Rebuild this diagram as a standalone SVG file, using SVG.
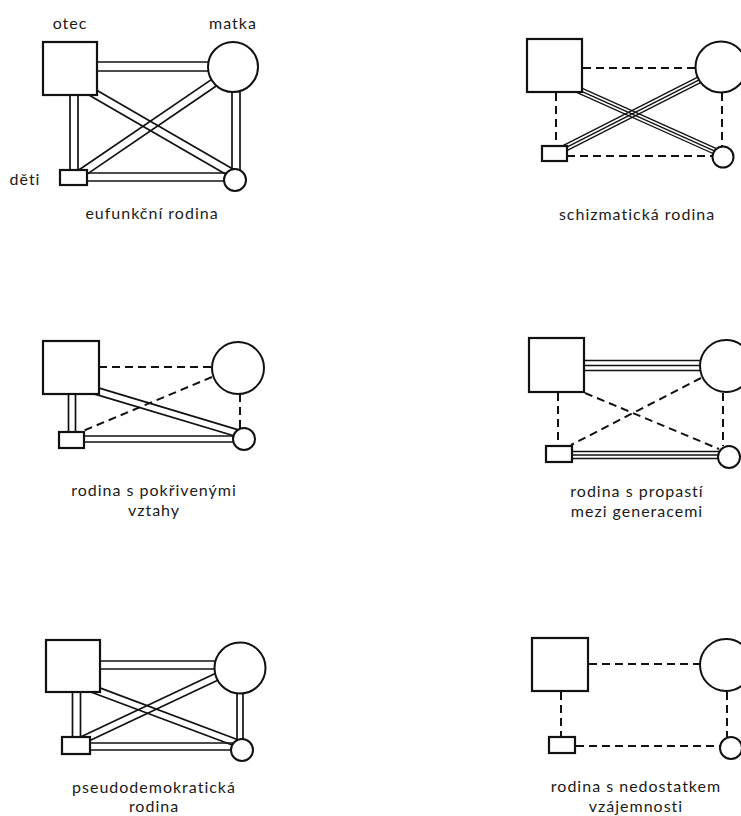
<svg xmlns="http://www.w3.org/2000/svg" width="741" height="816" viewBox="0 0 741 816">
<style>
.bg{fill:#fff}
.sq{fill:#fff;stroke:#111;stroke-width:2.2}
.ci{fill:#fff;stroke:#111;stroke-width:2}
.ln{stroke:#111;stroke-width:1.7;fill:none}
.tl{stroke:#111;stroke-width:1.35;fill:none}
.dash{stroke:#111;stroke-width:2;stroke-dasharray:8 5;fill:none}
.lbl{font-family:Lato,"Open Sans","Liberation Sans",sans-serif;font-size:16px;letter-spacing:1px;fill:#1a1a1a;text-anchor:middle}
</style>
<rect class="bg" x="0" y="0" width="741" height="816"/>
<g id="connectors">
  <!-- D1 eufunkcni -->
  <g id="c-d1">
    <line class="ln" x1="95" y1="62" x2="215" y2="62"/>
    <line class="ln" x1="95" y1="71" x2="215" y2="71"/>
    <line class="ln" x1="70" y1="93" x2="70" y2="174"/>
    <line class="ln" x1="78" y1="93" x2="78" y2="174"/>
    <line class="ln" x1="232" y1="88" x2="232" y2="175"/>
    <line class="ln" x1="240" y1="88" x2="240" y2="175"/>
    <line class="ln" x1="84" y1="173" x2="232" y2="173"/>
    <line class="ln" x1="84" y1="181" x2="232" y2="181"/>
    <line class="ln" x1="92" y1="87.4" x2="238" y2="172"/>
    <line class="ln" x1="88" y1="94.4" x2="234" y2="179"/>
    <line class="ln" x1="220.3" y1="83.2" x2="82.3" y2="177.4"/>
    <line class="ln" x1="215.7" y1="76.6" x2="77.7" y2="170.8"/>
  </g>
  <!-- D2 schizmaticka -->
  <g id="c-d2">
    <line class="dash" x1="583" y1="68" x2="696" y2="68"/>
    <line class="dash" x1="556" y1="93" x2="556" y2="146"/>
    <line class="dash" x1="722" y1="93" x2="722" y2="147"/>
    <line class="dash" x1="567" y1="156" x2="713" y2="156"/>
    <line class="tl" x1="565" y1="83.9" x2="722" y2="154.3"/>
    <line class="tl" x1="563.8" y1="86.6" x2="720.8" y2="157"/>
    <line class="tl" x1="566.2" y1="81.2" x2="723.2" y2="151.6"/>
    <line class="tl" x1="706" y1="76.4" x2="560" y2="150.6"/>
    <line class="tl" x1="707.4" y1="79.1" x2="561.4" y2="153.3"/>
    <line class="tl" x1="704.6" y1="73.7" x2="558.6" y2="147.9"/>
  </g>
  <!-- D3 pokrivene vztahy -->
  <g id="c-d3">
    <line class="dash" x1="99" y1="367" x2="212" y2="367"/>
    <line class="dash" x1="212" y1="377" x2="83" y2="431"/>
    <line class="dash" x1="240" y1="394" x2="240" y2="428"/>
    <line class="ln" x1="68.5" y1="390" x2="68.5" y2="436"/>
    <line class="ln" x1="75.5" y1="390" x2="75.5" y2="436"/>
    <line class="ln" x1="80" y1="436" x2="240" y2="436"/>
    <line class="ln" x1="80" y1="442" x2="240" y2="442"/>
    <line class="ln" x1="91" y1="385.65" x2="245" y2="431.85"/>
    <line class="ln" x1="89" y1="392.35" x2="243" y2="438.55"/>
  </g>
  <!-- D4 propast mezi generacemi -->
  <g id="c-d4">
    <line class="tl" x1="580" y1="360.5" x2="710" y2="360.5"/>
    <line class="tl" x1="580" y1="365.5" x2="710" y2="365.5"/>
    <line class="tl" x1="580" y1="370.5" x2="710" y2="370.5"/>
    <line class="dash" x1="558" y1="393" x2="558" y2="446"/>
    <line class="dash" x1="723" y1="393" x2="723" y2="446"/>
    <line class="dash" x1="585" y1="393" x2="719" y2="449"/>
    <line class="dash" x1="701" y1="378" x2="571" y2="445"/>
    <line class="tl" x1="568" y1="451.5" x2="725" y2="451.5"/>
    <line class="tl" x1="568" y1="455" x2="725" y2="455"/>
    <line class="tl" x1="568" y1="458.5" x2="725" y2="458.5"/>
  </g>
  <!-- D5 pseudodemokraticka -->
  <g id="c-d5">
    <line class="ln" x1="98" y1="661" x2="225" y2="661"/>
    <line class="ln" x1="98" y1="669" x2="225" y2="669"/>
    <line class="ln" x1="72.5" y1="690" x2="72.5" y2="740"/>
    <line class="ln" x1="80.5" y1="690" x2="80.5" y2="740"/>
    <line class="ln" x1="237" y1="685" x2="237" y2="745"/>
    <line class="ln" x1="243" y1="685" x2="243" y2="745"/>
    <line class="ln" x1="86" y1="743" x2="240" y2="743"/>
    <line class="ln" x1="86" y1="750" x2="240" y2="750"/>
    <line class="ln" x1="91.2" y1="684.6" x2="243.2" y2="741.7"/>
    <line class="ln" x1="88.8" y1="691.2" x2="240.8" y2="748.3"/>
    <line class="ln" x1="223.5" y1="677.4" x2="83.5" y2="743.5"/>
    <line class="ln" x1="220.5" y1="671" x2="80.5" y2="737.1"/>
  </g>
  <!-- D6 nedostatek vzajemnosti -->
  <g id="c-d6">
    <line class="dash" x1="589" y1="664" x2="700" y2="664"/>
    <line class="dash" x1="561" y1="692" x2="561" y2="737"/>
    <line class="dash" x1="727" y1="692" x2="727" y2="737"/>
    <line class="dash" x1="576" y1="746" x2="720" y2="746"/>
  </g>
</g>

<!-- D1 nodes -->
<g id="d1-otec"><rect class="sq" x="43" y="42" width="54" height="53"/><text class="lbl" x="70" y="29">otec</text></g>
<g id="d1-matka"><circle class="ci" cx="233" cy="67" r="25"/><text class="lbl" x="233" y="29">matka</text></g>
<g id="d1-deti"><rect class="sq" x="60" y="170" width="27" height="15"/><text class="lbl" x="25" y="185">děti</text></g>
<g id="d1-dcera"><circle class="ci" cx="235" cy="180" r="11"/></g>
<g id="d1-caption"><text class="lbl" x="152" y="219">eufunkční rodina</text></g>

<!-- D2 nodes -->
<g id="d2-otec"><rect class="sq" x="527" y="39" width="55" height="53"/></g>
<g id="d2-matka"><circle class="ci" cx="721" cy="67" r="25.5"/></g>
<g id="d2-syn"><rect class="sq" x="542" y="146" width="25" height="15"/></g>
<g id="d2-dcera"><circle class="ci" cx="723" cy="157" r="10.5"/></g>
<g id="d2-caption"><text class="lbl" x="637" y="220">schizmatická rodina</text></g>

<!-- D3 nodes -->
<g id="d3-otec"><rect class="sq" x="43" y="341" width="56" height="53"/></g>
<g id="d3-matka"><circle class="ci" cx="238" cy="368" r="26"/></g>
<g id="d3-syn"><rect class="sq" x="59" y="432" width="25" height="16"/></g>
<g id="d3-dcera"><circle class="ci" cx="244" cy="439" r="11"/></g>
<g id="d3-caption"><text class="lbl" x="154" y="496">rodina s pokřivenými</text><text class="lbl" x="154" y="516">vztahy</text></g>

<!-- D4 nodes -->
<g id="d4-otec"><rect class="sq" x="529" y="338" width="55" height="54"/></g>
<g id="d4-matka"><circle class="ci" cx="726" cy="366" r="26"/></g>
<g id="d4-syn"><rect class="sq" x="546" y="446" width="26" height="16"/></g>
<g id="d4-dcera"><circle class="ci" cx="729" cy="457" r="11"/></g>
<g id="d4-caption"><text class="lbl" x="637" y="497">rodina s propastí</text><text class="lbl" x="637" y="517">mezi generacemi</text></g>

<!-- D5 nodes -->
<g id="d5-otec"><rect class="sq" x="46" y="640" width="54" height="52"/></g>
<g id="d5-matka"><circle class="ci" cx="240" cy="668" r="25.5"/></g>
<g id="d5-syn"><rect class="sq" x="62" y="737" width="28" height="17"/></g>
<g id="d5-dcera"><circle class="ci" cx="242" cy="750" r="11"/></g>
<g id="d5-caption"><text class="lbl" x="154" y="793">pseudodemokratická</text><text class="lbl" x="154" y="812">rodina</text></g>

<!-- D6 nodes -->
<g id="d6-otec"><rect class="sq" x="532" y="638" width="56" height="53"/></g>
<g id="d6-matka"><circle class="ci" cx="726" cy="665" r="26"/></g>
<g id="d6-syn"><rect class="sq" x="549" y="737" width="26" height="16"/></g>
<g id="d6-dcera"><circle class="ci" cx="731" cy="748" r="11"/></g>
<g id="d6-caption"><text class="lbl" x="636" y="792">rodina s nedostatkem</text><text class="lbl" x="636" y="812">vzájemnosti</text></g>
</svg>
